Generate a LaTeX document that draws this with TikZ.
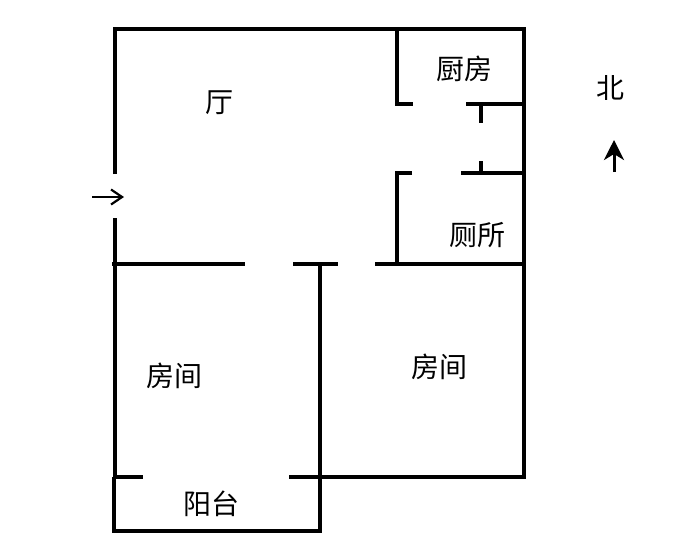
\documentclass[tikz,border=0pt]{standalone}
\usepackage{fontspec}
\usepackage{xcolor}
\setmainfont{Noto Sans CJK SC}
\usetikzlibrary{arrows.meta}

\begin{document}
\begin{tikzpicture}[
		x=1pt, y=-1pt,
		wall/.style={draw=black, line width=3.6pt, line cap=butt},
		room/.style={font=\fontsize{28}{30}\selectfont, inner sep=0pt},
		entry/.style={-{Straight Barb[length=11pt, width=15pt, line width=2.2pt]}, line width=2.6pt},
		north/.style={-{Stealth[length=20pt, width=20pt, inset=6pt]}, line width=3pt}
		]
		\useasboundingbox (0,0) rectangle (700,557);
		
		% Outer walls
		\draw[wall] (115,174) -- (115,29) -- (524,29) -- (524,477) -- (289,477);
		\draw[wall] (115,218) -- (115,477) -- (143,477);
		\draw[wall] (114,477) -- (114,531) -- (320,531) -- (320,264);
		
		% Kitchen and toilet
		\draw[wall] (397,29) -- (397,104) -- (413,104);
		\draw[wall] (466,104) -- (524,104);
		\draw[wall] (481,104) -- (481,123);
		\draw[wall] (412,173) -- (397,173) -- (397,264);
		\draw[wall] (461,173) -- (524,173);
		\draw[wall] (481,161) -- (481,173);
		
		% Wall above the bedrooms
		\draw[wall] (112,264) -- (245,264);
		\draw[wall] (293,264) -- (338,264);
		\draw[wall] (375,264) -- (524,264);
		
		% Rooms
		\node[room] (hall) at (219,103) {厅};
		\node[room] (kitchen) at (464,69) {厨房};
		\node[room] (toilet) at (477,235) {厕所};
		\node[room] (bedroomwest) at (174,376) {房间};
		\node[room] (bedroomeast) at (439,367) {房间};
		\node[room] (balcony) at (211,504) {阳台};
		\node[room] (northlabel) at (610,88) {北};
		
		% Arrows
		\coordinate (entrystart) at (92,197);
		\coordinate (entryend) at (124,197);
		\coordinate (northstart) at (614,172);
		\coordinate (northend) at (614,140);
		\draw[entry] (entrystart) -- (entryend);
		\draw[north] (northstart) -- (northend);
		
	\end{tikzpicture}
\end{document}
